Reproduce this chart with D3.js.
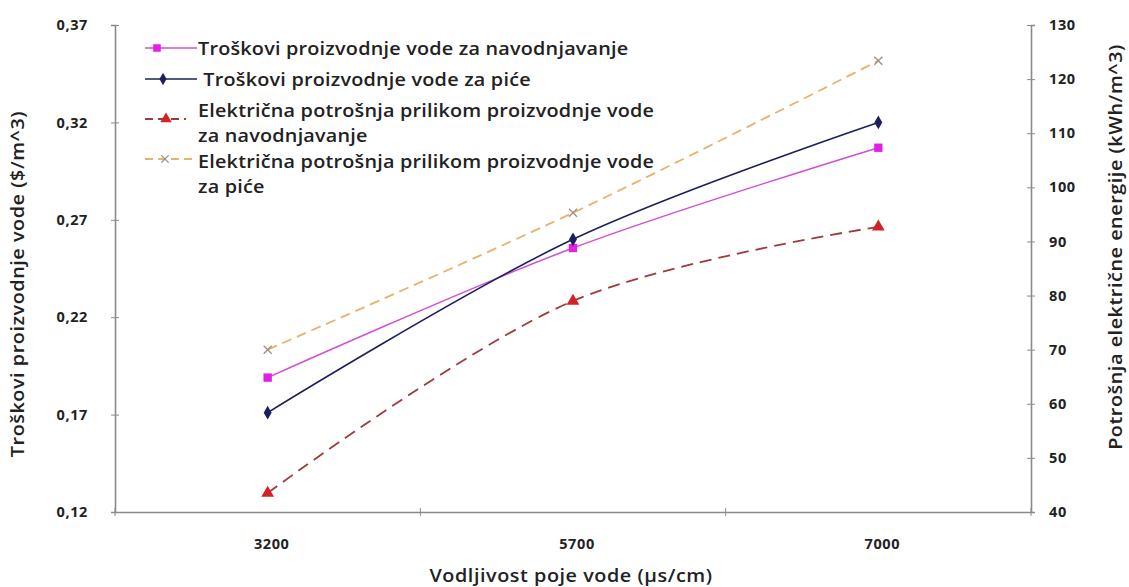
<!DOCTYPE html>
<html>
<head>
<meta charset="utf-8">
<script src="https://cdn.jsdelivr.net/npm/d3@7"></script>
<style>
  body { margin: 0; background: #fff; }
  text { font-family: "Open Sans", sans-serif; fill: #222; }
</style>
</head>
<body>
<script>
// data
var categories = ["3200", "5700", "7000"];
var costIrrigation = [0.189, 0.2555, 0.307];
var costDrinking = [0.171, 0.260, 0.320];
var elecIrrigation = [43.5, 79, 92.7];
var elecDrinking = [70, 95.3, 123.4];
var leftTicks = [0.12, 0.17, 0.22, 0.27, 0.32, 0.37];
var rightTicks = [40, 50, 60, 70, 80, 90, 100, 110, 120, 130];

var W = 1129, H = 587;
var plot = {left: 115, right: 1031, top: 25, bottom: 512};

var svg = d3.select("body").append("svg")
    .attr("width", W)
    .attr("height", H);

var x = d3.scaleBand()
    .domain(categories)
    .range([plot.left, plot.right]);

var yL = d3.scaleLinear().domain([0.12, 0.37]).range([plot.bottom, plot.top]);
var yR = d3.scaleLinear().domain([40, 130]).range([plot.bottom, plot.top]);

var axisColor = "#8a8a8a";
var fmt = function(d) { return d3.format(".2f")(d).replace(".", ","); };

// left axis
var gL = svg.append("g")
    .attr("transform", "translate(" + plot.left + ",0)")
    .call(d3.axisLeft(yL).tickValues(leftTicks).tickFormat(fmt).tickSize(4).tickPadding(23));
gL.selectAll(".tick line").attr("x2", 4).attr("x1", -4);

// right axis
var gR = svg.append("g")
    .attr("transform", "translate(" + plot.right + ",0)")
    .call(d3.axisRight(yR).tickValues(rightTicks).tickSize(4).tickPadding(14));
gR.selectAll(".tick line").attr("x1", -4).attr("x2", 4);

// bottom axis
var gX = svg.append("g")
    .attr("transform", "translate(0," + plot.bottom + ")")
    .call(d3.axisBottom(x).tickSize(0).tickPadding(27));
gX.selectAll(".tick text").attr("dx", 4);

var bounds = categories.map(function(d) { return x(d); }).concat([plot.right]);
gX.selectAll(".bound")
    .data(bounds)
  .enter().append("line")
    .attr("class", "bound")
    .attr("x1", function(d) { return d; })
    .attr("x2", function(d) { return d; })
    .attr("y1", -4)
    .attr("y2", 4)
    .attr("stroke", axisColor);

[gL, gR, gX].forEach(function(g) {
  g.select(".domain").attr("stroke", axisColor).attr("stroke-width", 1.6);
  g.selectAll(".tick line").attr("stroke", axisColor);
  g.selectAll(".tick text")
      .style("font-family", "'Open Sans', sans-serif")
      .style("font-size", "14.5px")
      .style("font-weight", "700")
      .style("letter-spacing", "0.6px")
      .attr("fill", "#222");
});

// axis titles (slightly widened, like the source picture)
function title(tr, txt) {
  svg.append("text")
      .attr("transform", tr + " scale(1.1,1)")
      .attr("text-anchor", "middle")
      .style("font-size", "18px")
      .style("font-weight", "600")
      .style("letter-spacing", "0.5px")
      .text(txt);
}
title("translate(24,284) rotate(-90)", "Troškovi proizvodnje vode ($/m^3)");
title("translate(1122,247) rotate(-90)", "Potrošnja električne energije (kWh/m^3)");
title("translate(571,582)", "Vodljivost poje vode (µs/cm)");

var cx = function(i) { return x(categories[i]) + x.bandwidth() / 2; };

var series = [
  {name: "irr", values: costIrrigation, y: yL, line: "#d24fd2", mark: "#e21fe2", dash: null, sym: d3.symbolSquare, size: 70, width: 1.5},
  {name: "drink", values: costDrinking, y: yL, line: "#1c1f5c", mark: "#1c1f5c", dash: null, sym: d3.symbolDiamond, size: 55, width: 1.6},
  {name: "eirr", values: elecIrrigation, y: yR, line: "#9e3b3b", mark: "#d42222", dash: "12,7", sym: d3.symbolTriangle, size: 70, width: 1.8},
  {name: "edrink", values: elecDrinking, y: yR, line: "#e8b26c", mark: "#a08c7c", dash: "10,6", sym: d3.symbolCross, size: 0, width: 1.8}
];

var line = d3.line()
    .curve(d3.curveCatmullRom.alpha(0.5));

series.forEach(function(s) {
  var pts = s.values.map(function(v, i) { return [cx(i), s.y(v)]; });
  svg.append("path")
      .attr("d", line(pts))
      .attr("fill", "none")
      .attr("stroke", s.line)
      .attr("stroke-width", s.width)
      .attr("stroke-dasharray", s.dash);
  pts.forEach(function(p) { drawMark(svg, s, p[0], p[1], 1); });
});

function drawMark(g, s, px, py, k) {
  if (s.name == "edrink") {
    var r = 4 * k;
    g.append("path")
        .attr("d", "M" + (px - r) + "," + (py - r) + "L" + (px + r) + "," + (py + r) +
                   "M" + (px + r) + "," + (py - r) + "L" + (px - r) + "," + (py + r))
        .attr("stroke", s.mark)
        .attr("stroke-width", 1.3)
        .attr("fill", "none");
  } else {
    g.append("path")
        .attr("d", d3.symbol().type(s.sym).size(s.size * k * k)())
        .attr("transform", "translate(" + px + "," + py + ")")
        .attr("fill", s.mark);
  }
}

// legend
var legendRows = [
  {s: 0, lines: ["Troškovi proizvodnje vode za navodnjavanje"], y: 55, my: 48, mx: 157, x2: 197},
  {s: 1, lines: [" Troškovi proizvodnje vode za piće"], y: 86, my: 79, mx: 163, x2: 197},
  {s: 2, lines: ["Električna potrošnja prilikom proizvodnje vode", "za navodnjavanje"], y: 117, my: 119, mx: 166, x2: 186},
  {s: 3, lines: ["Električna potrošnja prilikom proizvodnje vode", "za piće"], y: 168, my: 159, mx: 165, x2: 194}
];

legendRows.forEach(function(r) {
  var s = series[r.s];
  svg.append("line")
      .attr("x1", 145).attr("x2", r.x2)
      .attr("y1", r.my).attr("y2", r.my)
      .attr("stroke", s.line)
      .attr("stroke-width", s.width)
      .attr("stroke-dasharray", s.dash ? "8,5" : null);
  drawMark(svg, s, r.mx, r.my, 0.9);
  var t = svg.append("text")
      .attr("transform", "translate(198," + r.y + ") scale(1.1,1)")
      .style("font-size", "18px")
      .style("font-weight", "600")
      .style("letter-spacing", "0.2px")
      .style("white-space", "pre");
  r.lines.forEach(function(l, i) {
    t.append("tspan")
        .attr("x", 0)
        .attr("dy", i == 0 ? 0 : 25)
        .text(l);
  });
});
</script>
</body>
</html>
